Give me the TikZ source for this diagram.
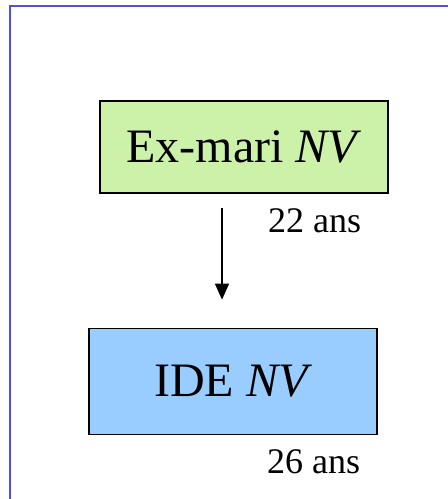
\documentclass[tikz,border=0pt]{standalone}
\usepackage{fontspec}
\setmainfont{Liberation Serif}
\usepackage{tikz}
\usetikzlibrary{positioning, arrows.meta}

\definecolor{framecol}{RGB}{80,80,225}
\definecolor{greenfill}{RGB}{204,242,170}
\definecolor{bluefill}{RGB}{153,204,255}

\begin{document}
\begin{tikzpicture}[x=1pt, y=-1pt,
        Person/.style={rectangle, draw=black, line width=1.3pt, minimum width=288pt, align=center, inner sep=0pt, font=\fontsize{48}{52}\selectfont},
        Age/.style={anchor=base west, inner sep=0pt, font=\fontsize{36}{40}\selectfont},
        Link/.style={-{Triangle[width=14pt, length=16pt]}, line width=1.5pt}
    ]

    % Fix the page and the frame
    \useasboundingbox (0,0) rectangle (448,499);
    \clip (0,0) rectangle (448,499);
    \draw[framecol, line width=2.6pt] (10,6) rectangle (480,530);

    % Draw the two persons
    \node (ExMari) [Person, fill=greenfill, minimum height=92pt] at (244,147) {Ex-mari \textit{NV}};
    \node (IDE) [Person, fill=bluefill, minimum height=106pt, below=134pt of ExMari.south, anchor=north, xshift=-11pt] {IDE \textit{NV}};

    % Ages
    \node (Age_ExMari) [Age] at ([xshift=24pt, yshift=-39pt]ExMari.south) {22 ans};
    \node (Age_IDE) [Age] at ([xshift=34pt, yshift=-39pt]IDE.south) {26 ans};

    % Connection
    \draw[Link, shorten <=14pt, shorten >=28pt] ([xshift=-22pt]ExMari.south) -- ([xshift=-22pt]ExMari.south |- IDE.north);

\end{tikzpicture}
\end{document}
